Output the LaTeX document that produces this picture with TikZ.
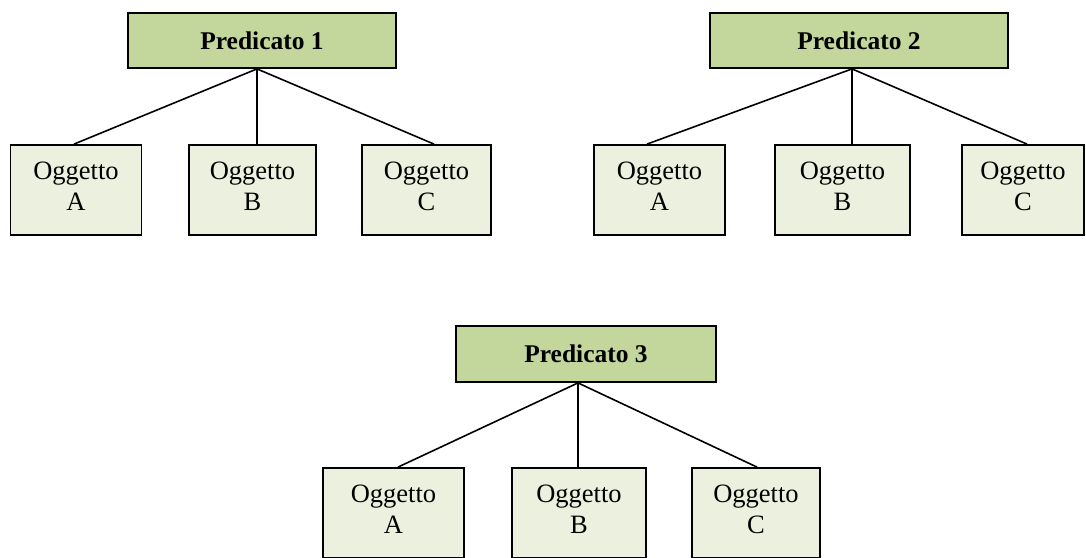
\documentclass[tikz,border=0pt]{standalone}
\usepackage{fontspec}
\setmainfont{Liberation Serif}
\definecolor{predfill}{HTML}{C3D69B}
\definecolor{objfill}{HTML}{EBF1DE}
\begin{document}
\begin{tikzpicture}[x=1pt,y=-1pt,
  pred/.style={draw=black, line width=1.8pt, fill=predfill, rectangle, inner sep=0pt,
    font=\fontsize{25.5}{30}\selectfont\bfseries},
  obj/.style={draw=black, line width=1.8pt, fill=objfill, rectangle, inner sep=0pt, minimum height=90pt},
  objtext/.style={align=center, inner sep=0pt, anchor=north, font=\fontsize{26.5}{30.5}\selectfont},
  link/.style={line width=1.6pt}]
\useasboundingbox (0,0) rectangle (1086,557);

% Group 1
\node[pred, minimum width=268pt, minimum height=55pt] (p1) at (262,40.5) {Predicato 1};
\node[obj, minimum width=131pt] (a1) at (76,190) {};
\node[obj, minimum width=127pt] (b1) at (252.5,190) {};
\node[obj, minimum width=129pt] (c1) at (426.5,190) {};
\node[objtext] (a1t) at ([yshift=-18pt]a1.north) {Oggetto\\A};
\node[objtext] (b1t) at ([yshift=-18pt]b1.north) {Oggetto\\B};
\node[objtext] (c1t) at ([yshift=-18pt]c1.north) {Oggetto\\C};
\draw[link] ([xshift=-5pt]p1.south) -- ([xshift=-2pt]a1.north);
\draw[link] ([xshift=-5pt]p1.south) -- ([xshift=4.5pt]b1.north);
\draw[link] ([xshift=-5pt]p1.south) -- ([xshift=7.5pt]c1.north);

% Group 2
\node[pred, minimum width=298pt, minimum height=55pt] (p2) at (859,40.5) {Predicato 2};
\node[obj, minimum width=131pt] (a2) at (659.5,190) {};
\node[obj, minimum width=135pt] (b2) at (842.5,190) {};
\node[obj, minimum width=122pt] (c2) at (1023,190) {};
\node[objtext] (a2t) at ([yshift=-18pt]a2.north) {Oggetto\\A};
\node[objtext] (b2t) at ([yshift=-18pt]b2.north) {Oggetto\\B};
\node[objtext] (c2t) at ([yshift=-18pt]c2.north) {Oggetto\\C};
\draw[link] ([xshift=-7pt]p2.south) -- ([xshift=-12.5pt]a2.north);
\draw[link] ([xshift=-7pt]p2.south) -- ([xshift=9.5pt]b2.north);
\draw[link] ([xshift=-7pt]p2.south) -- ([xshift=4pt]c2.north);

% Group 3
\node[pred, minimum width=260pt, minimum height=56pt] (p3) at (586,354) {Predicato 3};
\node[obj, minimum width=141pt] (a3) at (393.5,513) {};
\node[obj, minimum width=134pt] (b3) at (579,513) {};
\node[obj, minimum width=128pt] (c3) at (756,513) {};
\node[objtext] (a3t) at ([yshift=-18pt]a3.north) {Oggetto\\A};
\node[objtext] (b3t) at ([yshift=-18pt]b3.north) {Oggetto\\B};
\node[objtext] (c3t) at ([yshift=-18pt]c3.north) {Oggetto\\C};
\draw[link] ([xshift=-8pt]p3.south) -- ([xshift=4.5pt]a3.north);
\draw[link] ([xshift=-8pt]p3.south) -- ([xshift=-1pt]b3.north);
\draw[link] ([xshift=-8pt]p3.south) -- ([xshift=1pt]c3.north);
\end{tikzpicture}
\end{document}
